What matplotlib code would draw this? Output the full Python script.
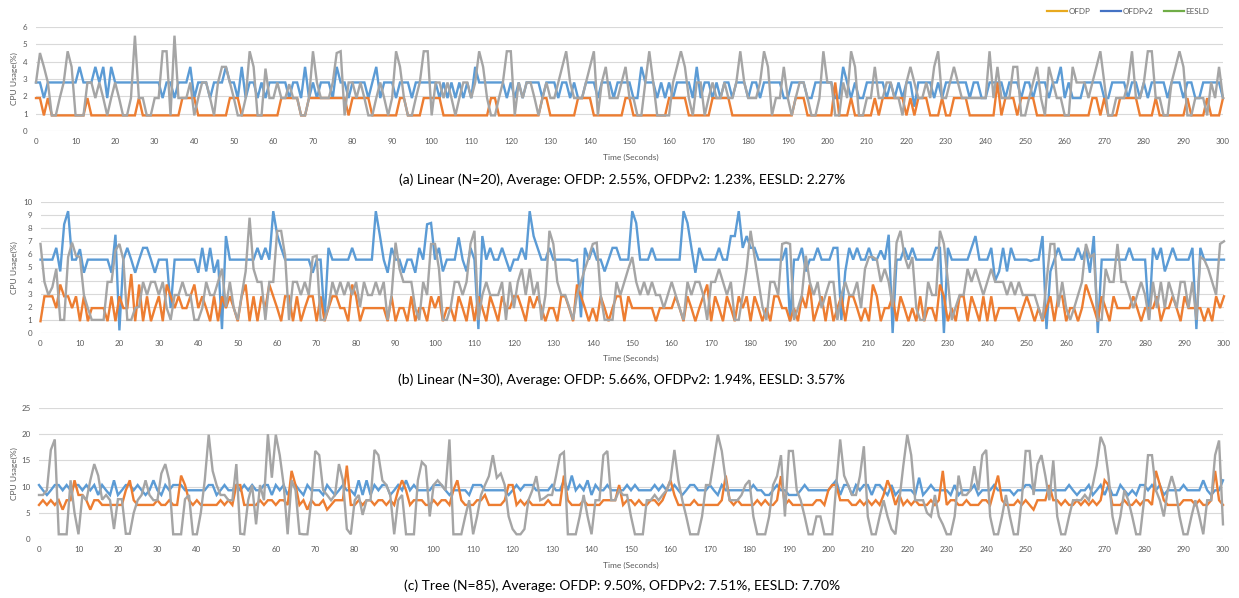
import numpy as np
import matplotlib
matplotlib.use("Agg")
import matplotlib.pyplot as plt
from matplotlib.lines import Line2D

plt.rcParams['font.family'] = ['Lato', 'DejaVu Sans']

seconds = list(range(0, 301))

# ---------------- (a) Linear N=20 ----------------
ofdp_a = [
 2.8,2.8,1.9,2.8,2.8,2.8,2.8,2.8,2.8,2.8,
 2.8,3.7,2.8,2.8,2.8,3.7,2.8,3.7,1.9,3.7,
 2.8,2.8,2.8,2.8,2.8,2.8,2.8,2.8,2.8,2.8,
 2.8,2.8,1.9,2.8,2.8,1.9,2.8,2.8,2.8,3.7,
 1.9,2.8,2.8,2.8,1.9,2.8,2.8,2.8,3.7,2.8,
 2.8,1.9,3.7,1.9,2.8,2.8,1.9,2.8,1.9,2.8,
 2.8,2.8,2.8,2.8,1.9,2.8,2.8,1.9,3.7,1.9,
 2.8,1.9,2.8,2.8,2.8,1.9,3.7,2.8,2.8,1.9,
 2.8,2.8,2.8,2.8,1.9,2.8,3.7,1.9,2.8,2.8,
 2.8,1.9,2.8,2.8,2.8,1.9,2.8,2.8,2.8,2.8,
 2.8,2.8,1.9,2.8,1.9,2.8,1.9,2.8,1.9,2.8,
 1.9,3.7,2.8,2.8,2.8,2.8,2.8,2.8,2.8,1.9,
 2.8,1.9,2.8,1.9,2.8,2.8,2.8,2.8,1.9,2.8,
 2.8,2.8,1.9,2.8,2.8,1.9,2.8,1.9,1.9,2.8,
 2.8,2.8,1.9,2.8,2.8,2.8,1.9,2.8,2.8,2.8,
 2.8,1.9,1.9,3.7,2.8,2.8,2.8,1.9,2.8,1.9,
 2.8,1.9,2.8,2.8,2.8,2.8,1.9,3.7,1.9,2.8,
 2.8,1.9,2.8,1.9,2.8,2.8,1.9,2.8,2.8,2.8,
 1.9,2.8,2.8,1.9,2.8,2.8,2.8,2.8,2.8,1.9,
 1.9,2.8,2.8,2.8,2.8,1.9,1.9,2.8,2.8,2.8,
 2.8,2.8,1.9,1.9,3.7,2.8,1.9,2.8,1.9,1.9,
 2.8,2.8,2.8,2.8,2.8,1.9,2.8,1.9,2.8,1.9,
 2.8,2.8,1.4,2.8,2.8,2.8,2.8,1.9,2.8,1.9,
 2.8,2.8,2.8,2.8,2.8,2.8,1.9,2.8,2.8,1.9,
 1.9,2.8,2.8,2.8,2.8,1.9,2.8,2.8,2.8,1.9,
 2.8,2.8,1.9,2.8,2.8,2.8,1.9,2.8,2.8,3.7,
 1.9,2.8,1.9,1.9,1.9,2.8,2.8,2.8,2.8,2.8,
 1.9,1.9,2.8,2.8,2.8,2.8,1.9,2.8,2.8,1.9,
 2.8,1.9,2.8,2.8,2.8,2.8,1.9,2.8,2.8,2.8,
 1.9,2.8,2.8,1.9,1.9,2.8,2.8,2.8,2.8,2.8,
 1.9]

ofdpv2_a = [
 1.9,1.9,0.9,1.9,0.9,0.9,0.9,0.9,0.9,0.9,
 0.9,0.9,0.9,1.9,0.9,0.9,0.9,0.9,0.9,0.9,
 0.9,0.9,0.9,0.9,0.9,0.9,1.9,0.9,0.9,0.9,
 0.9,0.9,0.9,0.9,0.9,0.9,0.9,1.9,1.9,1.9,
 1.9,0.9,0.9,0.9,0.9,0.9,0.9,0.9,0.9,1.9,
 1.9,1.9,0.9,0.9,0.9,0.9,0.9,0.9,0.9,0.9,
 0.9,0.9,1.9,1.9,1.9,1.9,1.9,0.9,0.9,1.9,
 1.9,1.9,1.9,1.9,1.9,1.9,1.9,1.9,1.9,0.9,
 1.9,1.9,1.9,1.9,1.9,0.9,0.9,0.9,0.9,0.9,
 0.9,0.9,1.9,1.9,0.9,0.9,0.9,0.9,1.9,1.9,
 1.9,1.9,1.9,0.9,0.9,0.9,0.9,0.9,0.9,0.9,
 0.9,0.9,0.9,0.9,0.9,1.9,1.9,0.9,0.9,0.9,
 0.9,0.9,0.9,0.9,0.9,0.9,0.9,0.9,1.9,1.9,
 0.9,0.9,0.9,0.9,0.9,0.9,0.9,1.9,1.9,1.9,
 1.9,0.9,0.9,0.9,0.9,0.9,0.9,0.9,0.9,1.9,
 1.9,0.9,0.9,0.9,0.9,0.9,0.9,0.9,0.9,0.9,
 1.9,1.9,1.9,1.9,1.9,0.9,0.9,0.9,0.9,0.9,
 0.9,1.9,1.9,1.9,1.9,1.9,0.9,0.9,0.9,0.9,
 0.9,0.9,0.9,0.9,0.9,0.9,0.9,0.9,0.9,0.9,
 0.9,0.9,1.9,1.9,1.9,0.9,0.9,0.9,0.9,0.9,
 0.9,0.9,2.8,0.9,0.9,0.9,1.9,0.9,0.9,0.9,
 0.9,0.9,1.9,0.9,1.9,1.9,1.9,1.9,1.9,1.9,
 0.9,1.9,0.9,1.9,1.9,1.9,0.9,0.9,0.9,1.9,
 0.9,0.9,1.9,1.9,1.9,1.9,0.9,0.9,0.9,0.9,
 0.9,0.9,0.9,2.8,0.9,1.9,1.9,1.9,0.9,1.9,
 1.9,1.9,1.9,0.9,0.9,0.9,0.9,0.9,0.9,0.9,
 0.9,0.9,0.9,0.9,0.9,0.9,0.9,1.9,1.9,0.9,
 1.9,0.9,0.9,0.9,1.9,1.9,1.9,1.9,1.9,0.9,
 0.9,0.9,0.9,1.9,0.9,0.9,0.9,0.9,0.9,0.9,
 0.9,1.9,0.9,0.9,0.9,0.9,1.9,0.9,0.9,0.9,
 1.9]

eesld_a = [
 2.8,4.5,3.7,2.8,0.9,0.9,1.9,2.8,4.6,3.7,
 0.9,0.9,0.9,2.8,2.8,1.9,2.8,1.9,0.9,1.9,
 2.8,1.9,0.9,0.9,1.9,5.5,1.9,1.9,0.9,0.9,
 1.9,1.9,4.6,4.6,0.9,5.5,1.9,1.9,1.9,2.8,
 0.9,1.9,2.8,2.8,1.9,0.9,2.8,3.7,3.7,2.8,
 1.9,0.9,0.9,1.9,4.6,3.7,0.9,0.9,3.6,1.9,
 1.9,2.8,1.9,1.9,2.7,1.9,1.9,0.9,0.9,1.9,
 4.6,2.8,1.9,1.9,1.9,2.8,4.5,4.6,0.9,2.8,
 2.8,1.9,2.8,1.9,0.9,0.9,1.9,2.8,1.9,0.9,
 1.9,4.6,3.7,1.9,0.9,0.9,1.9,2.8,4.6,4.6,
 0.9,2.8,2.8,1.9,2.8,1.9,0.9,1.9,2.8,2.8,
 1.9,2.8,4.6,3.7,1.9,0.9,0.9,1.9,2.8,4.6,
 4.6,0.9,2.8,1.9,2.8,2.8,1.9,0.9,1.9,2.8,
 1.9,1.9,2.8,3.7,4.6,2.8,1.9,1.9,1.9,2.8,
 3.7,4.6,0.9,2.8,3.7,1.9,1.9,1.9,2.8,3.7,
 1.9,1.9,0.9,0.9,2.8,4.6,2.8,0.9,0.9,0.9,
 0.9,2.8,3.7,4.6,3.7,1.9,0.9,2.8,2.8,0.9,
 1.9,2.8,1.9,1.9,2.8,1.9,1.9,2.8,4.6,2.8,
 1.9,1.9,1.9,2.8,4.6,3.7,0.9,1.9,1.9,3.7,
 1.9,0.9,1.9,2.8,2.8,1.9,0.9,0.9,1.9,4.6,
 2.8,2.8,0.9,0.9,2.8,1.9,4.6,3.7,0.9,0.9,
 1.9,1.9,3.7,1.9,1.9,2.8,2.8,1.9,1.9,0.9,
 2.8,3.7,2.8,1.9,1.9,2.8,1.9,3.7,4.6,1.9,
 1.9,2.8,3.7,2.8,1.9,1.9,1.9,1.9,1.9,1.9,
 1.9,4.6,1.9,3.7,1.9,1.9,1.9,3.7,3.7,0.9,
 0.9,1.9,2.8,3.7,1.9,0.9,3.7,2.8,1.9,1.9,
 0.9,0.9,3.7,2.8,2.8,2.8,1.9,2.8,3.7,4.6,
 2.8,0.9,0.9,1.9,1.9,1.9,2.8,4.6,1.9,1.9,
 2.8,4.6,4.6,1.9,1.9,0.9,0.9,2.8,3.7,4.6,
 3.7,0.9,0.9,1.9,1.9,1.9,0.9,2.8,1.9,3.7,
 1.9]

# ---------------- (b) Linear N=30 ----------------
ofdp_b = [
 5.6,5.6,5.6,5.6,6.5,4.7,8.3,9.3,5.6,5.6,
 6.4,4.6,5.6,5.6,5.6,5.6,5.6,5.6,4.6,7.5,
 0.2,5.6,6.5,5.6,4.6,5.6,6.5,6.5,5.6,4.6,
 5.6,5.6,5.6,1.9,5.6,5.6,5.6,5.6,5.6,5.6,
 4.6,6.5,4.7,6.5,4.6,5.6,0.3,7.4,5.6,5.6,
 5.6,5.6,5.6,5.6,5.6,6.5,5.6,6.5,5.6,9.3,
 7.5,6.5,5.6,5.6,5.6,5.6,5.6,5.6,5.6,4.6,
 5.6,5.6,1.0,6.5,5.6,5.6,5.6,5.6,5.6,6.5,
 5.6,5.6,5.6,5.6,5.6,9.3,7.5,5.6,4.6,6.5,
 5.6,5.6,4.6,5.6,5.6,4.6,6.5,5.6,8.3,8.4,
 5.6,6.5,4.7,5.6,5.6,5.6,7.3,5.6,4.7,6.5,
 5.6,0.3,7.4,5.6,6.5,5.6,5.6,6.5,5.6,4.7,
 5.6,5.6,6.5,5.6,9.3,7.4,6.5,5.6,5.6,6.5,
 5.6,5.6,5.6,5.6,5.6,5.5,5.6,1.2,6.5,5.6,
 6.5,5.6,5.6,4.7,5.6,6.5,6.5,5.6,5.6,5.6,
 9.3,8.4,5.6,5.6,5.6,6.5,5.6,5.6,5.6,5.6,
 5.6,5.6,5.6,9.3,8.4,6.5,4.6,6.5,5.6,5.6,
 5.6,5.6,6.5,5.6,5.6,7.4,7.4,9.3,6.5,7.4,
 6.5,6.5,5.6,5.6,5.6,5.6,5.6,5.6,5.6,6.5,
 0.9,5.6,5.6,6.5,4.7,5.6,5.6,6.5,5.6,5.6,
 5.6,6.5,6.5,1.0,4.7,6.5,5.6,6.5,5.6,5.6,
 6.5,5.6,5.6,6.3,5.6,7.5,0.0,5.6,5.6,6.5,
 5.6,6.5,5.6,5.6,5.6,5.6,5.6,6.5,6.5,0.0,
 6.5,5.6,5.6,5.6,5.6,5.6,6.5,7.4,5.6,5.6,
 5.6,6.5,4.0,4.7,6.5,4.7,6.5,5.6,5.6,5.6,
 5.6,5.5,5.6,5.6,7.4,0.3,4.7,5.6,6.5,5.6,
 5.6,5.6,5.6,6.5,5.6,6.5,4.6,7.4,0.0,5.6,
 5.6,5.6,5.6,5.6,5.6,5.6,6.5,5.6,5.6,5.6,
 5.6,1.0,6.5,5.6,6.5,4.7,5.6,6.5,5.6,5.6,
 5.6,5.6,6.5,0.3,6.5,5.6,5.6,5.6,5.6,5.6,
 5.6]

ofdpv2_b = [
 0.9,2.8,2.8,2.8,1.9,3.7,2.8,2.8,1.9,2.8,
 0.9,2.8,0.9,1.9,1.9,1.9,1.9,0.9,2.8,0.9,
 2.8,1.9,1.9,4.5,0.9,3.7,0.9,2.8,0.9,1.9,
 2.8,0.9,3.7,2.8,1.9,2.8,1.9,1.9,2.8,3.7,
 1.9,2.8,1.9,0.9,2.8,0.9,2.8,1.9,2.8,1.9,
 0.9,2.8,3.7,0.9,2.8,0.9,2.8,1.9,3.7,2.8,
 1.9,0.9,2.8,2.8,0.9,2.8,0.9,1.9,2.8,2.8,
 0.9,2.8,0.9,1.9,2.8,2.8,1.9,1.9,0.9,3.7,
 2.8,0.9,1.9,1.9,1.9,1.9,1.9,1.9,0.9,2.8,
 0.9,1.9,1.9,0.9,2.8,0.9,1.9,1.9,0.9,2.8,
 1.9,2.8,0.9,1.9,1.9,0.9,2.8,1.9,0.9,2.8,
 0.9,2.8,1.9,0.9,2.8,1.9,0.9,2.8,1.9,1.9,
 2.8,2.8,1.9,0.9,2.8,1.9,2.8,1.9,0.9,1.9,
 1.9,0.9,2.8,2.8,1.9,0.9,3.7,2.8,1.9,0.9,
 1.9,0.9,2.8,1.9,0.9,1.9,2.8,2.8,0.9,2.8,
 1.9,1.9,1.9,1.9,1.9,1.9,0.9,1.9,1.9,1.9,
 1.9,2.8,1.9,0.9,2.8,1.9,0.9,1.9,2.8,3.7,
 0.9,2.8,1.9,0.9,2.8,1.9,0.9,2.8,1.9,2.8,
 0.9,2.8,1.9,0.9,1.9,0.9,2.8,2.8,1.9,1.9,
 0.9,1.9,0.9,2.8,1.9,3.7,0.9,1.9,2.8,0.9,
 2.8,0.9,1.9,2.8,0.9,2.8,2.8,1.9,0.9,1.9,
 0.9,3.7,2.8,0.9,1.9,1.9,2.8,0.9,2.8,1.9,
 0.9,1.9,0.9,2.8,0.9,1.9,1.9,0.9,3.7,2.8,
 0.9,1.9,0.9,2.8,2.8,0.9,2.8,1.9,0.9,2.8,
 0.9,2.8,0.9,1.9,1.9,1.9,1.9,1.9,0.9,1.9,
 2.8,1.9,0.9,1.9,0.9,1.9,2.8,0.9,2.8,2.8,
 0.9,1.9,1.9,0.9,1.9,3.7,2.8,1.9,0.9,2.8,
 1.9,0.9,2.8,1.9,1.9,1.9,1.9,2.8,1.9,0.9,
 1.9,1.9,1.9,2.8,0.9,1.9,1.9,2.8,1.9,0.9,
 2.8,1.9,1.9,1.9,1.9,0.9,1.9,0.9,2.8,1.9,
 2.8]

eesld_b = [
 6.8,3.9,2.9,3.5,4.9,1.0,1.0,5.8,6.9,5.9,
 5.8,2.9,1.9,1.0,1.0,1.0,1.0,3.9,3.9,6.3,
 6.8,5.6,1.0,1.0,1.9,2.0,3.9,2.9,3.9,3.9,
 2.9,3.9,1.9,1.0,2.9,2.9,3.9,2.9,2.9,1.0,
 1.0,1.9,3.9,2.9,2.9,3.9,4.9,2.0,3.9,1.9,
 1.0,2.9,4.7,8.8,4.9,3.9,3.9,1.0,3.9,3.9,
 7.8,7.8,5.9,1.0,3.9,3.9,2.9,3.9,2.9,5.8,
 5.9,1.0,1.0,2.0,3.9,2.9,3.9,2.9,3.9,2.9,
 3.9,2.0,3.9,2.9,2.9,3.9,2.9,3.9,1.0,2.9,
 6.9,4.9,3.9,3.9,3.9,1.9,1.0,3.9,2.9,6.8,
 6.8,4.9,1.0,1.0,2.0,3.9,3.9,2.9,3.9,6.8,
 7.8,1.0,2.9,3.9,2.9,2.9,2.9,3.9,1.0,3.9,
 1.9,3.9,4.9,2.9,4.9,2.9,3.9,1.0,2.9,7.8,
 6.8,3.9,2.9,2.9,2.0,1.0,2.9,3.9,4.9,5.8,
 6.8,6.9,2.9,1.0,1.0,1.0,3.9,2.9,3.9,4.9,
 5.8,3.9,2.9,3.9,2.9,3.9,2.9,2.9,1.9,2.9,
 3.9,2.9,1.9,1.0,3.9,2.9,3.9,3.9,2.9,1.0,
 3.9,3.9,4.9,3.9,2.9,3.9,1.0,1.0,2.9,4.9,
 7.8,5.8,3.9,2.0,1.0,3.9,3.9,2.9,6.8,6.9,
 6.8,1.0,1.9,2.9,5.9,3.9,2.9,3.9,1.9,2.9,
 3.9,3.9,1.0,2.9,3.9,2.9,2.9,3.9,1.9,4.9,
 5.8,5.8,5.6,3.9,4.9,3.9,2.0,6.9,7.8,5.9,
 4.9,5.8,1.9,1.0,1.0,3.9,2.9,2.9,7.8,6.8,
 4.0,1.0,2.0,2.9,2.9,4.9,3.9,4.9,3.9,2.9,
 3.9,4.9,3.9,3.9,3.9,2.9,3.9,2.9,3.9,2.9,
 2.9,2.9,2.9,1.9,1.0,3.9,6.8,6.8,2.0,3.9,
 1.9,1.0,1.9,2.9,3.9,6.8,5.8,6.0,1.0,1.0,
 4.9,3.9,3.9,6.8,3.9,3.9,2.9,1.9,2.9,3.9,
 2.9,1.0,3.9,1.9,3.9,1.9,3.9,2.9,1.9,3.9,
 3.9,1.9,3.9,1.0,5.8,5.6,4.9,3.9,2.9,6.8,
 7.0]

# ---------------- (c) Tree N=85 ----------------
ofdp_c = [
 10.3,9.3,8.4,9.3,10.3,10.3,9.3,10.3,9.3,10.3,
 10.3,9.3,10.3,9.3,10.3,8.4,10.3,9.3,8.4,11.2,
 8.4,9.3,10.3,10.3,9.3,10.3,9.3,8.4,9.3,11.2,
 9.3,8.4,10.3,9.3,10.3,10.3,10.3,9.3,9.3,9.3,
 9.3,9.3,9.3,10.3,10.3,8.4,9.3,10.3,9.3,9.3,
 10.3,9.3,10.3,9.3,10.3,9.3,9.3,10.3,10.3,8.4,
 10.3,9.3,10.3,8.4,10.3,10.3,9.3,8.4,10.3,9.3,
 9.3,9.3,8.4,10.3,9.3,8.4,9.3,10.3,9.3,9.3,
 8.4,11.2,8.4,11.2,8.4,10.3,9.3,10.3,10.3,8.4,
 9.3,10.3,9.3,11.2,9.3,10.3,9.3,9.3,9.3,9.3,
 10.3,10.3,10.3,9.3,8.4,9.3,9.3,9.3,9.3,8.4,
 10.3,10.3,10.3,9.3,9.3,9.3,9.3,9.3,9.3,8.4,
 9.3,10.3,9.3,10.3,10.3,10.3,9.3,9.3,9.3,9.3,
 10.3,9.3,9.3,11.2,9.3,12.1,9.3,10.3,9.3,11.2,
 8.4,10.3,9.3,9.3,10.3,9.3,9.3,9.3,9.3,10.3,
 9.3,10.3,9.3,9.3,9.3,9.3,10.3,9.3,10.3,9.3,
 9.3,10.3,9.3,8.4,9.3,10.3,10.3,9.3,9.3,9.3,
 10.3,9.3,8.4,10.3,9.3,9.3,9.3,9.3,9.3,9.3,
 9.3,10.3,9.3,9.3,8.4,8.4,9.3,10.3,9.3,9.3,
 8.4,8.4,8.4,9.3,10.3,9.3,9.3,9.3,9.3,9.3,
 9.3,10.3,11.2,8.4,10.3,10.3,8.4,10.3,9.3,10.3,
 10.3,8.4,10.3,10.3,9.3,8.4,10.3,8.4,9.3,9.3,
 9.3,9.3,8.4,11.7,8.4,9.3,10.3,9.3,9.3,9.3,
 9.3,8.4,10.3,8.4,9.3,9.3,9.3,10.3,8.4,9.3,
 9.3,9.3,10.3,9.3,9.3,9.3,9.3,8.4,9.3,9.3,
 10.3,10.3,9.3,9.3,9.3,9.3,9.3,9.3,9.3,9.3,
 9.3,10.3,9.3,8.4,9.3,9.3,10.3,8.4,9.3,10.3,
 8.4,10.3,8.4,8.4,10.3,9.3,8.4,9.3,8.4,10.3,
 10.3,9.3,10.3,9.3,10.3,8.4,9.3,9.3,9.3,9.3,
 10.3,9.3,9.3,9.3,9.3,11.2,9.3,8.4,9.3,9.3,
 11.2]

ofdpv2_c = [
 6.5,7.4,6.5,7.4,6.5,7.4,5.6,7.4,7.4,11.2,
 8.4,8.4,7.4,5.6,7.4,7.4,6.5,6.5,6.5,6.5,
 6.5,6.5,9.3,11.2,7.4,6.5,6.5,6.5,6.5,6.5,
 7.4,6.5,6.5,7.4,6.5,6.5,12.1,10.3,7.4,6.5,
 7.4,6.5,6.5,6.5,6.5,6.5,7.4,6.5,7.4,6.5,
 10.3,10.3,6.5,6.5,6.5,6.5,7.4,6.5,7.4,7.4,
 6.5,7.4,7.4,6.5,13.0,10.3,6.5,7.4,5.6,7.4,
 6.5,6.5,7.4,5.6,6.5,7.4,7.4,7.4,14.0,6.5,
 6.5,7.4,6.5,7.4,7.4,6.5,7.4,7.4,6.5,7.4,
 6.5,9.3,11.2,9.3,6.5,7.4,7.4,7.4,6.5,6.5,
 7.4,6.5,7.4,7.4,6.5,9.3,11.2,7.4,6.5,6.5,
 6.5,7.4,7.4,8.4,6.5,6.5,6.5,6.5,7.4,10.3,
 10.3,6.5,7.4,6.5,7.4,6.5,6.5,6.5,6.5,7.4,
 6.5,6.5,6.5,12.1,7.4,6.5,6.5,6.5,7.4,6.5,
 6.5,6.5,6.5,7.4,7.4,7.4,7.4,10.3,6.5,7.4,
 7.4,6.5,7.4,6.5,6.5,7.4,7.4,6.5,7.4,9.3,
 11.2,8.4,6.5,6.5,6.5,6.5,7.4,6.5,6.5,6.5,
 6.5,6.5,6.5,7.4,12.1,7.4,6.5,7.4,6.5,6.5,
 6.5,6.5,7.4,6.5,7.4,6.5,6.5,7.4,12.0,6.5,
 7.4,6.5,6.5,6.5,6.5,6.5,6.5,7.4,7.4,6.5,
 9.3,10.3,10.3,7.4,7.4,7.4,6.5,6.5,7.4,6.5,
 7.4,6.5,7.4,6.5,8.4,11.2,9.3,6.5,8.4,6.5,
 7.4,6.5,7.4,6.5,6.5,6.5,7.4,6.5,7.4,13.0,
 6.5,7.4,7.4,6.5,6.5,7.4,6.5,6.5,6.5,7.4,
 7.4,6.5,9.3,12.1,7.4,6.5,6.5,6.5,7.4,6.5,
 7.4,6.5,5.6,7.4,7.4,7.4,10.3,7.4,7.4,6.5,
 7.4,6.5,6.5,7.4,6.5,7.4,6.5,7.4,6.5,7.4,
 11.2,10.3,6.5,6.5,6.5,7.4,6.5,6.5,7.4,6.5,
 7.4,7.4,6.5,13.0,10.3,7.4,6.5,6.5,6.5,6.5,
 7.4,7.4,7.4,6.5,7.4,6.5,6.5,7.4,13.0,7.4,
 6.5]

eesld_c = [
 8.4,8.4,9.3,17.0,19.0,0.9,0.9,0.9,11.2,5.0,
 0.9,8.4,7.4,11.2,14.3,12.1,7.5,8.4,7.4,1.9,
 7.6,7.6,1.0,1.0,5.0,7.4,8.4,11.2,8.4,7.4,
 7.4,12.5,14.3,11.2,0.9,0.9,0.9,7.6,8.4,0.9,
 0.9,5.0,11.2,19.9,13.0,10.3,8.4,8.4,7.4,7.4,
 14.3,1.0,0.9,7.4,10.3,2.8,10.3,7.4,20.0,11.7,
 19.9,16.0,10.3,0.9,11.2,9.3,1.0,0.9,0.9,7.4,
 16.8,16.0,9.3,8.4,7.4,8.4,14.3,11.2,1.9,0.9,
 7.4,8.4,4.6,7.4,7.4,17.0,16.0,11.2,10.3,8.4,
 0.9,7.4,8.4,0.9,0.9,0.9,11.2,14.7,13.9,4.3,
 10.3,11.2,10.3,9.3,19.0,0.9,0.9,0.9,4.3,7.4,
 0.9,4.3,8.4,10.3,12.0,16.0,11.7,12.5,10.3,4.3,
 1.9,0.9,0.9,1.9,7.4,9.3,12.0,7.4,7.8,8.4,
 8.4,12.0,16.0,16.6,0.9,0.9,0.9,4.3,8.4,4.3,
 0.9,7.4,7.4,16.0,16.8,7.4,7.4,9.3,8.4,8.4,
 4.3,0.9,0.9,0.9,7.4,7.4,8.4,7.4,8.4,9.3,
 11.2,17.0,11.2,7.4,4.3,0.9,0.9,0.9,4.3,10.3,
 10.3,15.0,19.9,16.8,11.2,7.4,7.4,7.4,8.4,10.3,
 11.2,4.3,0.9,0.9,0.9,4.3,10.3,12.0,16.0,4.3,
 16.8,16.8,9.3,7.4,4.3,0.9,0.9,4.3,4.3,0.9,
 0.9,0.9,10.3,19.0,12.1,10.3,8.4,8.4,12.0,17.7,
 4.3,0.9,0.9,4.3,7.4,4.3,1.9,0.9,7.4,14.0,
 19.9,16.0,7.4,7.4,7.4,5.0,4.3,8.4,4.3,2.8,
 0.9,0.9,4.3,12.1,8.4,8.4,9.3,13.9,9.3,16.0,
 17.0,4.3,0.9,0.9,4.3,8.4,4.3,0.9,0.9,7.4,
 16.8,16.8,8.4,14.3,16.0,12.0,7.4,15.0,4.3,0.9,
 0.9,4.3,7.4,7.4,7.4,8.4,7.4,10.3,14.0,19.5,
 17.7,12.0,4.3,0.9,4.3,9.3,7.4,4.3,0.9,0.9,
 7.4,16.0,16.0,9.3,7.4,4.3,9.3,12.0,9.3,4.3,
 0.9,0.9,4.3,7.4,4.3,0.9,7.4,7.4,16.0,18.8,
 2.8]

x_ticks = list(range(0, 301, 10))
captions = [
    "(a) Linear (N=20), Average: OFDP: 2.55%, OFDPv2: 1.23%, EESLD: 2.27%",
    "(b) Linear (N=30), Average: OFDP: 5.66%, OFDPv2: 1.94%, EESLD: 3.57%",
    "(c) Tree (N=85), Average: OFDP: 9.50%, OFDPv2: 7.51%, EESLD: 7.70%",
]
legend_labels = ["OFDP", "OFDPv2", "EESLD"]
legend_colors = ["#E8A91E", "#4472C4", "#70AD47"]

BLUE, ORANGE, GREY = "#5B9BD5", "#ED7D31", "#A5A5A5"
W, H = 1239, 598

fig = plt.figure(figsize=(W / 100, H / 100), dpi=100)

def fx(px):
    return px / W

def fy(py):
    return 1 - py / H

panels = [
    # (x0px, x300px, y0px, ytoppx, ymax, ystep, series, caption_y, xlabel_y)
    (36, 1223, 131, 27, 6, 1, (ofdp_a, ofdpv2_a, eesld_a), 180, 157),
    (40.5, 1224, 333, 202, 10, 1, (ofdp_b, ofdpv2_b, eesld_b), 380, 358),
    (39, 1223, 539, 408, 25, 5, (ofdp_c, ofdpv2_c, eesld_c), 586, 565),
]

tick_color = "#595959"
for i, (x0, x1, y0, yt, ymax, ystep, series, cap_y, xl_y) in enumerate(panels):
    ax = fig.add_axes([fx(x0), fy(y0), fx(x1 - x0), (y0 - yt) / H])
    for s, c in zip(series, (BLUE, ORANGE, GREY)):
        ax.plot(seconds, s, color=c, lw=1.7, solid_joinstyle="miter", clip_on=False)
    ax.set_xlim(0, 300)
    ax.set_ylim(0, ymax)
    ax.set_xticks(x_ticks)
    ax.set_yticks(list(range(0, ymax + 1, ystep)))
    ax.grid(axis="y", color="#D9D9D9", lw=0.8)
    ax.set_axisbelow(True)
    for sp in ax.spines.values():
        sp.set_visible(False)
    ax.tick_params(axis="both", length=0, labelsize=5.8, labelcolor=tick_color)
    ax.tick_params(axis="x", pad=5)
    ax.tick_params(axis="y", pad=6)
    fig.text(fx(14), fy((y0 + yt) / 2), "CPU Usage(%)", rotation=90,
             ha="center", va="center", fontsize=6, color=tick_color)
    fig.text(fx(631), fy(xl_y), "Time (Seconds)", ha="center", va="center",
             fontsize=6, color=tick_color)
    fig.text(fx(622), fy(cap_y), captions[i], ha="center", va="center",
             fontsize=10, color="black")

handles = [Line2D([0], [0], color=c, lw=1.6) for c in legend_colors]
fig.legend(handles, legend_labels, loc="center", bbox_to_anchor=(fx(1128), fy(11)),
           ncol=3, frameon=False, fontsize=5.8, handlelength=2.5,
           handletextpad=0.2, columnspacing=1.3, labelcolor=tick_color)

fig.savefig("out.png", dpi=100)
